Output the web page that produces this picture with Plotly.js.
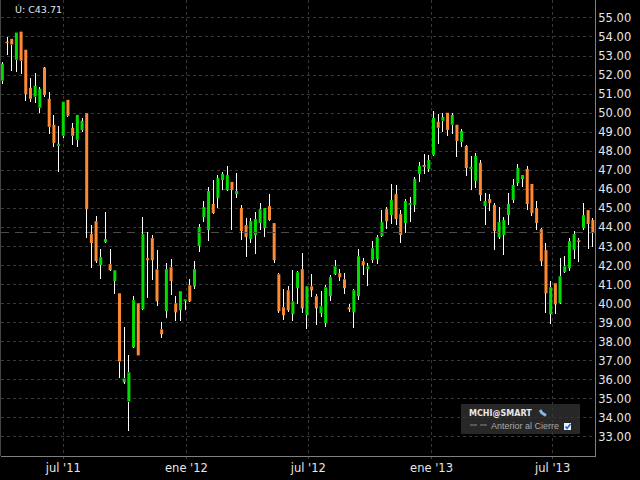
<!DOCTYPE html>
<html><head><meta charset="utf-8">
<script src="https://cdn.plot.ly/plotly-3.0.1.min.js"></script>
<style>html,body{margin:0;padding:0;background:#000;overflow:hidden}#c{width:640px;height:480px}
#c .scatterlayer .js-line{shape-rendering:crispEdges}</style>
</head><body><div id="c"></div>
<script>
var dates=["2011-04-01","2011-04-08","2011-04-15","2011-04-22","2011-04-29","2011-05-06","2011-05-13","2011-05-20","2011-05-27","2011-06-03","2011-06-10","2011-06-17","2011-06-24","2011-07-01","2011-07-08","2011-07-15","2011-07-22","2011-07-29","2011-08-05","2011-08-12","2011-08-19","2011-08-26","2011-09-02","2011-09-09","2011-09-16","2011-09-23","2011-09-30","2011-10-07","2011-10-14","2011-10-21","2011-10-28","2011-11-04","2011-11-11","2011-11-18","2011-11-25","2011-12-02","2011-12-09","2011-12-16","2011-12-23","2011-12-30",
"2012-01-06","2012-01-13","2012-01-20","2012-01-27","2012-02-03","2012-02-10","2012-02-17","2012-02-24","2012-03-02","2012-03-09","2012-03-16","2012-03-23","2012-03-30","2012-04-06","2012-04-13","2012-04-20","2012-04-27","2012-05-04","2012-05-11","2012-05-18","2012-05-25","2012-06-01","2012-06-08","2012-06-15","2012-06-22","2012-06-29","2012-07-06","2012-07-13","2012-07-20","2012-07-27","2012-08-03","2012-08-10","2012-08-17","2012-08-24","2012-08-31","2012-09-07","2012-09-14","2012-09-21","2012-09-28","2012-10-05","2012-10-12","2012-10-19","2012-10-26","2012-11-02","2012-11-09","2012-11-16","2012-11-23","2012-11-30","2012-12-07","2012-12-14","2012-12-21","2012-12-28",
"2013-01-04","2013-01-11","2013-01-18","2013-01-25","2013-02-01","2013-02-08","2013-02-15","2013-02-22","2013-03-01","2013-03-08","2013-03-15","2013-03-22","2013-03-29","2013-04-05","2013-04-12","2013-04-19","2013-04-26","2013-05-03","2013-05-10","2013-05-17","2013-05-24","2013-05-31","2013-06-07","2013-06-14","2013-06-21","2013-06-28","2013-07-05","2013-07-12","2013-07-19","2013-07-26","2013-08-02","2013-08-09","2013-08-16","2013-08-23","2013-08-30"];
var opens=[51.7,53.75,53.9,52.8,54.28,53.33,51.33,50.86,50.28,52.39,50.75,49.39,48.28,48.81,50.7,49.23,48.6,49.12,50.0,43.65,44.33,42.02,43.23,42.07,41.18,40.54,35.86,34.86,37.7,40.02,39.7,42.39,43.44,41.8,38.65,39.6,41.91,40.02,39.65,40.12,40.96,40.91,43.02,44.54,43.86,45.23,45.54,46.49,45.96,46.39,45.75,45.02,44.12,43.39,43.6,44.23,43.96,45.12,44.23,41.54,39.81,40.7,39.44,40.81,41.81,39.39,40.91,40.39,39.49,38.96,40.39,41.54,41.6,41.28,39.81,39.54,40.39,42.23,41.81,42.28,42.33,43.54,44.96,44.65,45.75,44.7,44.23,45.18,45.18,46.81,47.28,47.07,47.81,49.54,49.6,50.02,49.39,49.39,48.49,48.28,47.07,46.44,47.39,45.12,45.49,45.18,43.49,43.6,44.65,45.44,46.33,46.54,47.07,46.28,45.02,43.91,42.81,39.44,41.07,40.02,41.65,41.86,42.81,43.33,43.96,44.91,44.39];
var closes=[52.6,53.67,53.6,54.23,52.75,51.0,50.75,51.44,51.28,50.96,49.28,48.44,48.39,50.6,49.86,48.81,49.91,49.6,44.96,43.18,42.23,42.44,43.39,41.75,41.75,36.96,36.07,36.39,40.18,37.28,43.65,42.28,42.28,40.12,38.39,41.81,41.18,39.54,40.65,40.23,40.12,41.81,44.02,45.07,45.91,44.75,46.6,46.81,46.75,45.96,45.91,43.81,43.49,44.33,44.44,44.96,45.02,44.39,42.28,39.6,39.39,39.65,40.12,41.65,39.75,40.91,40.7,39.75,39.86,40.86,41.39,41.96,41.39,40.81,39.7,40.7,42.49,42.02,41.96,42.91,43.49,44.28,44.33,45.44,44.44,43.6,45.39,45.28,46.54,47.23,47.18,47.54,49.75,49.23,49.81,49.12,49.91,48.54,49.07,47.12,47.18,47.75,45.7,45.39,45.28,43.81,44.28,44.39,45.23,46.23,47.12,46.75,45.23,44.75,44.23,42.23,40.54,40.86,39.96,41.44,41.96,43.28,43.65,43.23,44.65,44.18,43.7];
var highs=[52.7,54.0,53.9,54.23,54.28,53.33,51.86,52.12,51.39,52.44,51.12,49.91,49.33,50.6,50.7,49.49,49.91,49.75,50.0,44.12,44.6,42.86,44.8,42.86,41.75,40.54,38.75,37.28,40.39,40.02,44.54,43.75,43.6,42.8,39.02,42.12,42.33,40.39,40.65,40.23,41.28,42.23,44.18,45.39,46.12,46.49,46.75,46.91,47.23,46.39,46.86,45.18,44.49,44.49,44.81,45.28,45.02,45.75,44.23,41.6,40.75,40.91,41.75,41.7,42.65,40.91,41.54,40.49,40.65,40.96,41.49,42.28,41.81,41.6,39.96,40.75,42.86,42.39,42.12,43.28,43.6,44.91,45.07,46.28,46.23,44.91,45.49,45.6,46.65,47.44,47.86,47.81,50.12,49.96,50.02,50.02,50.02,49.39,49.18,48.33,47.75,47.91,47.54,45.81,45.75,45.28,45.07,44.54,45.81,46.54,47.33,46.75,47.23,46.28,45.39,43.96,43.18,41.18,41.07,42.39,42.49,43.44,43.81,43.44,45.28,44.91,44.49];
var lows=[51.55,53.07,52.2,52.18,52.07,50.65,50.6,50.54,50.02,50.86,48.91,48.23,46.91,48.7,49.8,48.33,48.23,49.0,43.44,41.86,42.12,41.28,43.18,41.7,40.49,36.07,35.8,33.33,37.65,37.28,39.65,40.28,41.23,39.86,38.18,39.23,40.44,39.07,39.07,39.65,40.07,40.75,42.7,44.28,43.28,44.7,45.02,45.96,45.91,43.86,45.54,43.33,42.44,43.16,42.6,43.86,43.49,44.33,42.12,39.49,39.12,39.54,39.07,39.96,39.49,38.65,40.33,38.86,39.28,38.75,40.12,41.49,41.18,40.49,39.54,38.7,40.18,41.49,40.91,42.12,42.07,43.49,43.91,44.18,44.12,43.18,43.7,44.28,44.81,46.39,46.81,46.91,47.75,48.39,49.02,48.81,48.91,47.7,48.23,46.7,45.96,46.07,45.39,44.12,44.86,42.81,43.39,42.54,44.12,45.28,46.18,46.12,44.91,44.6,43.86,41.96,39.49,38.91,39.44,39.96,41.6,41.7,42.33,42.18,43.86,42.86,42.96];
var yTicks=[33,34,35,36,37,38,39,40,41,42,43,44,45,46,47,48,49,50,51,52,53,54,55];
var xTickVals=["2011-07-01","2012-01-01","2012-07-01","2013-01-01","2013-07-01"];
var xTickText=["jul '11","ene '12","jul '12","ene '13","jul '13"];
var prevClose=43.71;
var lastLabel="Ú: C43.71";
var legendTitle="MCHI@SMART";
var legendItem="Anterior al Cierre";

var GREEN="#00dd00",ORANGE="#ff8833";
var bodyBase=opens.map(function(o,i){return Math.min(o,closes[i]);});
var bodyTop=opens.map(function(o,i){return Math.max(o,closes[i]);});
var bodyLen=opens.map(function(o,i){return Math.abs(closes[i]-o);});
var bodyCol=opens.map(function(o,i){return closes[i]>=o?GREEN:ORANGE;});
var wickX=[],wickY=[];
dates.forEach(function(d,i){
  wickX.push(d,d,null,d,d,null);
  wickY.push(lows[i],bodyBase[i],null,bodyTop[i],highs[i],null);
});
var L=1,R=45,B=24,W=640,H=480,PW=W-L-R,PH=H-B;
function px(v){return (v-L)/PW;}
function py(v){return 1-v/PH;}

var traces=[
 {type:'scatter',mode:'lines',x:["2011-03-30","2013-09-02 05:00"],y:[prevClose,prevClose],
  line:{color:'#4a4a4a',width:1,dash:'8px,6px'},hoverinfo:'skip',showlegend:false},
 {type:'scatter',mode:'lines',x:wickX,y:wickY,connectgaps:false,line:{color:'#ffffff',width:1},hoverinfo:'skip',showlegend:false},
 {type:'bar',x:dates,y:bodyLen,base:bodyBase,width:3/0.669*86400000,marker:{color:bodyCol,line:{width:0}},hoverinfo:'skip',showlegend:false}
];
var font={family:'DejaVu Sans',size:11.5,color:'#e6e6e6'};
var layout={
 width:W,height:H,margin:{l:L,r:R,t:0,b:B,pad:0},
 paper_bgcolor:'#000',plot_bgcolor:'#000',showlegend:false,barmode:'overlay',font:font,
 xaxis:{type:'date',range:["2011-03-30","2013-09-02 05:00"],tickmode:'array',tickvals:xTickVals,ticktext:xTickText,
  showgrid:true,gridcolor:'#383838',griddash:'3px,3px',gridwidth:1,zeroline:false,
  showline:true,linecolor:'#808080',linewidth:1,ticks:'outside',ticklen:2,tickcolor:'#444',tickfont:font,ticklabelstandoff:-1,fixedrange:true},
 yaxis:{side:'right',range:[32,55.94],tickmode:'array',tickvals:yTicks,tickformat:'.2f',
  showgrid:true,gridcolor:'#383838',griddash:'3px,3px',gridwidth:1,zeroline:false,
  showline:true,linecolor:'#808080',linewidth:1,ticks:'',tickfont:font,fixedrange:true},
 shapes:[
  {type:'line',xref:'paper',yref:'paper',x0:px(0.5),x1:px(0.5),y0:py(0),y1:py(456),line:{color:'#444',width:1}},
  {type:'rect',xref:'paper',yref:'paper',x0:px(461),x1:px(580),y0:py(404),y1:py(434),fillcolor:'rgba(52,52,52,0.75)',line:{width:0},layer:'above'},
  {type:'line',xref:'paper',yref:'paper',x0:px(470),x1:px(477),y0:py(425),y1:py(425),line:{color:'#888',width:1},layer:'above'},
  {type:'line',xref:'paper',yref:'paper',x0:px(480),x1:px(487),y0:py(425),y1:py(425),line:{color:'#888',width:1},layer:'above'},
  {type:'rect',xref:'paper',yref:'paper',x0:px(564),x1:px(571),y0:py(423),y1:py(430),fillcolor:'#eef2f8',line:{width:0},layer:'above'},
  {type:'path',xref:'paper',yref:'paper',path:'M '+px(565.5)+' '+py(426.5)+' L '+px(567)+' '+py(428.5)+' L '+px(570.5)+' '+py(424),line:{color:'#1f66d0',width:1.6},layer:'above'},
  {type:'path',xref:'paper',yref:'paper',path:'M '+px(540)+' '+py(410)+' L '+px(542)+' '+py(413)+' L '+px(546)+' '+py(415.5),line:{color:'#8fb6e0',width:3},layer:'above'}
 ],
 annotations:[
  {xref:'paper',yref:'paper',x:px(12.5),y:py(9.5),xanchor:'left',yanchor:'middle',showarrow:false,text:lastLabel,font:{family:'DejaVu Sans',size:9.5,color:'#e6e6e6'}},
  {xref:'paper',yref:'paper',x:px(467),y:py(413),xanchor:'left',yanchor:'middle',showarrow:false,text:'<b>'+legendTitle+'</b>',font:{family:'DejaVu Sans',size:8,color:'#e8e8e8'}},
  {xref:'paper',yref:'paper',x:px(489),y:py(426),xanchor:'left',yanchor:'middle',showarrow:false,text:legendItem,font:{family:'Liberation Sans',size:9,color:'#aaaaaa'}}
 ]
};
Plotly.newPlot('c',traces,layout,{staticPlot:true,displayModeBar:false});
</script></body></html>
